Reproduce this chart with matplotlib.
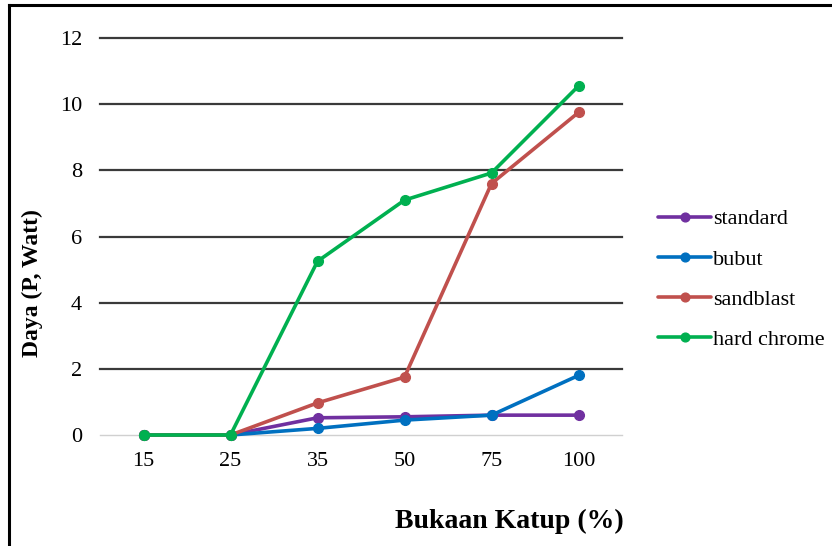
import matplotlib
matplotlib.use("Agg")
import matplotlib.pyplot as plt

# Valve opening categories and power readings (Watt)
bukaan = ["15", "25", "35", "50", "75", "100"]
standard = [0.0, 0.0, 0.52, 0.55, 0.60, 0.60]
bubut = [0.0, 0.0, 0.20, 0.45, 0.60, 1.80]
sandblast = [0.0, 0.0, 0.97, 1.75, 7.60, 9.75]
hard_chrome = [0.0, 0.0, 5.25, 7.10, 7.92, 10.55]

series = [
    ("standard", standard, "#7030A0"),
    ("bubut", bubut, "#0070C0"),
    ("sandblast", sandblast, "#C0504D"),
    ("hard chrome", hard_chrome, "#00B050"),
]

plt.rcParams["font.family"] = ["Liberation Serif", "DejaVu Serif"]

fig = plt.figure(figsize=(8.32, 5.46), dpi=100)
W, H = 832, 546

# outer frame (top and left edges visible)
fig.add_artist(plt.Line2D([8.5 / W, 8.5 / W], [0, 1 - 5 / H], color="black",
                          lw=2.2, transform=fig.transFigure))
fig.add_artist(plt.Line2D([8.5 / W, 1], [1 - 5 / H, 1 - 5 / H], color="black",
                          lw=2.2, transform=fig.transFigure))

left, right = 100 / W, 622 / W
bottom, top = (H - 435) / H, (H - 38) / H
ax = fig.add_axes([left, bottom, right - left, top - bottom])

x = list(range(len(bukaan)))
for name, vals, col in series:
    ax.plot(x, vals, color=col, lw=2.6, marker="o", markersize=7,
            label=name, solid_capstyle="round", zorder=3, clip_on=False)

ax.set_xlim(-0.5, len(bukaan) - 0.5)
ax.set_ylim(0, 12)
ax.set_yticks(range(0, 13, 2))
ax.set_xticks(x)
ax.set_xticklabels(bukaan)

for yv in range(2, 13, 2):
    ax.axhline(yv, color="#3a3a3a", lw=1.6, zorder=1, clip_on=False)
ax.axhline(0, color="#d0d0d0", lw=1.0, zorder=1, clip_on=False)

for s in ax.spines.values():
    s.set_visible(False)
ax.tick_params(axis="both", length=0, labelsize=16)
ax.tick_params(axis="y", pad=13)
ax.tick_params(axis="x", pad=12)

fig.text(32 / W, 1 - 283 / H, "Daya (P, Watt)", fontsize=17,
         fontweight="bold", ha="center", va="center", rotation=90)
fig.text(509 / W, 1 - 521 / H, "Bukaan Katup (%)", fontsize=20,
         fontweight="bold", ha="center", va="center")

leg = fig.legend(loc="upper left", bbox_to_anchor=(649 / W, 1 - 200 / H),
                 frameon=False, fontsize=16, handlelength=2.4,
                 handletextpad=0.1, labelspacing=0.88, borderaxespad=0,
                 markerscale=0.9)

fig.savefig("out.png", dpi=100)
